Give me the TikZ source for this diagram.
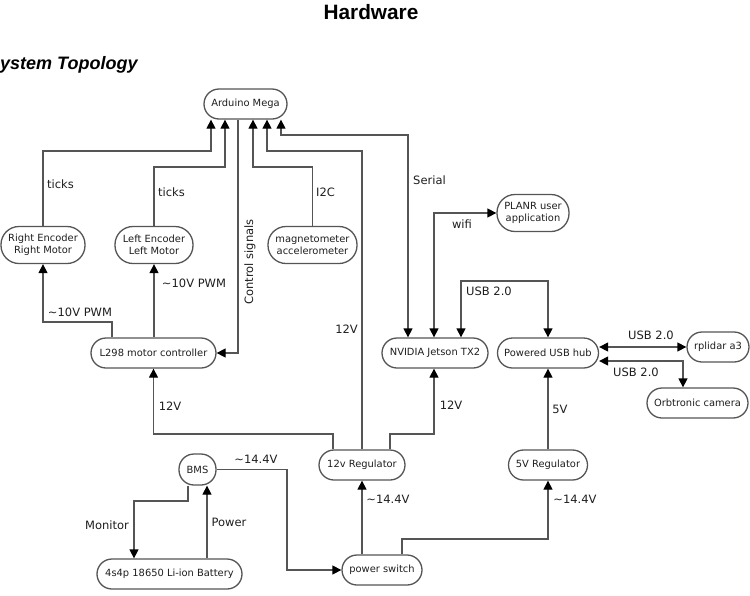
\documentclass[tikz,border=0pt]{standalone}
\usepackage{fontspec}
\setmainfont{DejaVu Sans}
\newfontfamily\titlefont{Liberation Sans}
\usetikzlibrary{arrows.meta}
\definecolor{ln}{RGB}{85,85,85}
\definecolor{tx}{RGB}{30,30,30}
\begin{document}
\begin{tikzpicture}[x=1pt,y=-1pt,
  box/.style={draw=ln, line width=1.3pt, rounded corners=15pt, inner sep=0pt, align=center,
    minimum height=30pt, font=\fontsize{9.9}{11.5}\selectfont, text=tx},
  tall/.style={minimum height=37pt, rounded corners=18pt},
  arr/.style={draw=ln, line width=1.3pt, -{Triangle[length=9pt,width=9pt,color=black]}},
  dbl/.style={draw=ln, line width=1.3pt, {Triangle[length=9pt,width=9pt,color=black]}-{Triangle[length=9pt,width=9pt,color=black]}},
  lab/.style={font=\fontsize{11.5}{13}\selectfont, text=tx, inner sep=0pt}]
\useasboundingbox (0,0) rectangle (750,595);

% titles
\node[font=\titlefont\bfseries\fontsize{20.8}{24}\selectfont, anchor=base, inner sep=0pt] (title) at (371,19) {Hardware};
\node[font=\titlefont\bfseries\itshape\fontsize{18}{22}\selectfont, anchor=base west, inner sep=0pt] (sub) at (0,69) {ystem Topology};

% nodes
\node[box, minimum width=83pt] (ard) at (245.5,104) {Arduino Mega};
\node[box, tall, minimum width=84pt] (renc) at (43,245) {Right Encoder\\Right Motor};
\node[box, tall, minimum width=78pt] (lenc) at (154,245) {Left Encoder\\Left Motor};
\node[box, tall, minimum width=89pt] (mag) at (312.5,245) {magnetometer\\accelerometer};
\node[box, minimum width=125pt] (l298) at (153.5,353) {L298 motor controller};
\node[box, minimum width=106pt] (jet) at (435,353) {NVIDIA Jetson TX2};
\node[box, tall, minimum width=72pt] (planr) at (533,213) {PLANR user\\application};
\node[box, minimum width=101pt] (hub) at (548,353) {Powered USB hub};
\node[box, minimum width=62pt] (rpl) at (718,347) {rplidar a3};
\node[box, minimum width=101pt] (cam) at (697.5,403) {Orbtronic camera};
\node[box, minimum width=86pt] (reg12) at (362,465) {12v Regulator};
\node[box, minimum width=79pt] (reg5) at (548,465) {5V Regulator};
\node[box, minimum width=37pt, minimum height=31pt, rounded corners=15pt] (bms) at (197.5,469.5) {BMS};
\node[box, minimum width=145pt] (bat) at (169.5,574) {4s4p 18650 Li-ion Battery};
\node[box, minimum width=80pt] (sw) at (382,570) {power switch};

% connectors to Arduino
\draw[arr] (renc.north) -- (43,151) -- (211,151) -- ([xshift=-34.5pt]ard.south);
\draw[arr] (lenc.north) -- (154,167) -- (225,167) -- ([xshift=-20.5pt]ard.south);
\draw[arr] ([xshift=-7.5pt]ard.south) -- (238,353) -- (l298.east);
\draw[arr] (mag.north) -- (312.5,167) -- (253,167) -- ([xshift=7.5pt]ard.south);
\draw[arr] (reg12.north) -- (362,151) -- (267,151) -- ([xshift=21.5pt]ard.south);
\draw[dbl] ([xshift=35.5pt]ard.south) -- (281,135) -- (408,135) -- ([xshift=-27pt]jet.north);

% motor controller
\draw[arr] ([xshift=-41.5pt]l298.north) -- (112,322) -- (43,322) -- (renc.south);
\draw[arr] ([xshift=0.5pt]l298.north) -- (lenc.south);

% Jetson and USB
\draw[dbl] ([xshift=-1pt]jet.north) -- (434,213) -- (planr.west);
\draw[dbl] ([xshift=26pt]jet.north) -- (461,281) -- (548,281) -- (hub.north);
\draw[dbl] (hub.east |- rpl.west) -- (rpl.west);
\draw[dbl] ([yshift=-8pt]hub.east) -- (683,361) -- ([xshift=-14.5pt]cam.north);

% power
\draw[arr] ([xshift=28pt]reg12.north) -- (390,434) -- (434,434) -- ([xshift=-1pt]jet.south);
\draw[arr] ([xshift=-29pt]reg12.north) -- (333,434) -- (153.5,434) -- (l298.south);
\draw[arr] (reg5.north) -- (hub.south);
\draw[arr] ([xshift=-20pt]sw.north) -- (reg12.south);
\draw[arr] ([xshift=20pt]sw.north) -- (402,539) -- (548,539) -- (reg5.south);
\draw[arr] (bms.east) -- (287,469.5) -- (287,570) -- (sw.west);
\draw[arr] ([xshift=-9.5pt]bms.south) -- (188,501) -- (134,501) -- ([xshift=-35.5pt]bat.north);
\draw[arr] ([xshift=37.5pt]bat.north) -- ([xshift=9.5pt]bms.south);

% labels
\node[lab, anchor=west] (t1) at (47,184) {ticks};
\node[lab, anchor=west] (t2) at (158,192) {ticks};
\node[lab, anchor=west] (t3) at (316,192) {I2C};
\node[lab, rotate=90] (t4) at (250,262) {Control signals};
\node[lab, anchor=west] (t5) at (413,180) {Serial};
\node[lab] (t6) at (462,224) {wifi};
\node[lab] (t7) at (346.5,329) {12V};
\node[lab] (t8) at (194,283) {\textasciitilde10V PWM};
\node[lab] (t9) at (80,312) {\textasciitilde10V PWM};
\node[lab] (t10) at (489,291) {USB 2.0};
\node[lab] (t11) at (651,335) {USB 2.0};
\node[lab] (t12) at (636,372) {USB 2.0};
\node[lab] (t13) at (170,406) {12V};
\node[lab] (t14) at (451,405) {12V};
\node[lab] (t15) at (560,409) {5V};
\node[lab] (t16) at (256,459) {\textasciitilde14.4V};
\node[lab] (t17) at (388,499) {\textasciitilde14.4V};
\node[lab] (t18) at (575,499) {\textasciitilde14.4V};
\node[lab] (t19) at (107,525) {Monitor};
\node[lab] (t20) at (229,522) {Power};
\end{tikzpicture}
\end{document}
